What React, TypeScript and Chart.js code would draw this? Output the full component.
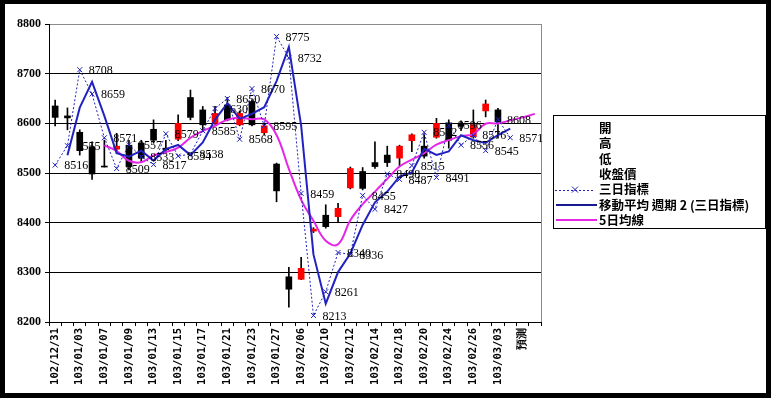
import React, { useEffect, useRef } from 'react';
import { Chart, registerables } from 'chart.js';
Chart.register(...registerables);

const categories = ['102/12/31','103/01/02','103/01/03','103/01/06','103/01/07','103/01/08','103/01/09','103/01/10','103/01/13','103/01/14','103/01/15','103/01/16','103/01/17','103/01/20','103/01/21','103/01/22','103/01/23','103/01/24','103/01/27','103/02/05','103/02/06','103/02/07','103/02/10','103/02/11','103/02/12','103/02/13','103/02/14','103/02/17','103/02/18','103/02/19','103/02/20','103/02/21','103/02/24','103/02/25','103/02/26','103/02/27','103/03/03','103/03/04','預測',''];

const opens =  [8635,8615,8582,8553,8514,8548,8556,8560,8588,8550,8568,8652,8627,8600,8637,8597,8644,8581,8518,8291,8286,8383,8415,8412,8470,8503,8521,8536,8530,8565,8554,8572,8601,8600,8573,8625,8627];
const highs =  [8647,8631,8587,8563,8566,8580,8566,8566,8607,8566,8617,8667,8634,8634,8652,8625,8648,8600,8520,8310,8330,8390,8436,8439,8512,8511,8563,8554,8556,8579,8577,8610,8607,8605,8627,8647,8630];
const lows =   [8595,8587,8536,8487,8512,8540,8506,8523,8560,8540,8565,8607,8587,8598,8605,8595,8595,8577,8442,8230,8285,8380,8389,8402,8468,8466,8509,8513,8513,8543,8530,8570,8550,8585,8570,8613,8570];
const closes = [8612,8611,8545,8498,8512,8554,8513,8530,8566,8547,8600,8612,8597,8620,8607,8620,8597,8595,8464,8266,8308,8387,8392,8429,8509,8469,8513,8521,8554,8577,8534,8600,8566,8594,8597,8639,8603];

const threeDay = [8516,8555,8708,8659,8571,8509,8557,8533,8517,8579,8534,8538,8585,8630,8650,8568,8670,8595,8775,8732,8459,8213,8261,8340,8336,8455,8427,8498,8487,8515,8582,8491,8596,8556,8576,8545,8608,8571];
const ma2 = [null,8535.5,8631.5,8683.5,8615,8540,8533,8545,8525,8548,8556.5,8536,8561.5,8607.5,8640,8609,8619,8632.5,8685,8753.5,8595.5,8336,8237,8300.5,8338,8395.5,8441,8462.5,8492.5,8501,8548.5,8536.5,8543.5,8576,8566,8560.5,8576.5,8589.5];
const ma5 = [null,null,null,null,8555.8,8544.2,8524.6,8521.6,8535.2,8542,8551.2,8571,8584.4,8595.2,8607.2,8611.2,8608.2,8607.8,8576.6,8508.4,8446,8404,8363.4,8356.4,8405,8437.2,8462.4,8488.2,8513.2,8526.8,8539.8,8557.2,8566.2,8574.2,8578.2,8599.2,8599.8,8606,8612,8619];

const yMin = 8200;
const yMax = 8800;
const yStep = 100;

const legendItems = ['開', '高', '低', '收盤價', '三日指標', '移動平均 週期 2 (三日指標)', '5日均線'];

const BLUE = '#2222c0';
const MAGENTA = '#e626e6';
const RED = '#ff0000';

export default function App() {
  const ref = useRef<HTMLCanvasElement>(null);
  useEffect(() => {
    const canvas = ref.current!;
    const framePlugin = {
      id: 'frame',
      beforeDraw(chart: any) {
        const c = chart.ctx;
        c.save();
        c.fillStyle = '#000';
        c.fillRect(0, 0, 771, 398);
        c.fillStyle = '#fff';
        c.fillRect(5, 4, 761, 389);
        c.restore();
      },
      beforeDatasetsDraw(chart: any) {
        const c = chart.ctx;
        const a = chart.chartArea;
        c.save();
        c.strokeStyle = '#8a8a8a';
        c.lineWidth = 1;
        c.beginPath();
        c.moveTo(Math.round(a.right) + 0.5, a.top);
        c.lineTo(Math.round(a.right) + 0.5, a.bottom);
        c.stroke();
        c.restore();
      },
    };
    const labelPlugin = {
      id: 'pointLabels',
      afterDatasetsDraw(chart: any) {
        const c = chart.ctx;
        const meta = chart.getDatasetMeta(4);
        c.save();
        c.font = '12px "Liberation Serif"';
        c.fillStyle = '#000';
        c.textAlign = 'left';
        c.textBaseline = 'middle';
        meta.data.forEach((p: any, i: number) => {
          const v = threeDay[i];
          if (v == null) return;
          c.fillText(String(v), p.x + 9, p.y + 1);
        });
        c.restore();
      },
    };
    const legendPlugin = {
      id: 'customLegend',
      afterDraw(chart: any) {
        const c = chart.ctx;
        c.save();
        c.strokeStyle = '#000';
        c.lineWidth = 1;
        c.strokeRect(553.5, 115.5, 212, 113);
        c.font = 'bold 12.5px "Noto Sans CJK TC"';
        c.fillStyle = '#000';
        c.textAlign = 'left';
        c.textBaseline = 'middle';
        legendItems.forEach((t, i) => {
          const y = 128 + i * 15.4;
          c.fillText(t, 599, y);
          if (i === 4) {
            c.strokeStyle = BLUE;
            c.setLineDash([2, 2]);
            c.beginPath();
            c.moveTo(555, Math.round(y) + 0.5);
            c.lineTo(595, Math.round(y) + 0.5);
            c.stroke();
            c.setLineDash([]);
            c.beginPath();
            c.moveTo(572, y - 3);
            c.lineTo(578, y + 3);
            c.moveTo(578, y - 3);
            c.lineTo(572, y + 3);
            c.stroke();
          } else if (i === 5 || i === 6) {
            c.strokeStyle = i === 5 ? '#1a1a90' : MAGENTA;
            c.lineWidth = 2;
            c.beginPath();
            c.moveTo(556, Math.round(y));
            c.lineTo(597, Math.round(y));
            c.stroke();
            c.lineWidth = 1;
          }
        });
        c.restore();
      },
    };

    const chart = new Chart(canvas, {
      type: 'bar',
      data: {
        labels: categories,
        datasets: [
          {
            type: 'bar',
            label: '高低',
            data: categories.map((_, i) => (i < highs.length ? [lows[i], highs[i]] : null)) as any,
            backgroundColor: '#000',
            barThickness: 1,
            grouped: false,
            order: 5,
          } as any,
          {
            type: 'bar',
            label: '開收',
            data: categories.map((_, i) => (i < opens.length ? [opens[i], closes[i]] : null)) as any,
            backgroundColor: (ctx: any) => {
              const i = ctx.dataIndex;
              return closes[i] >= opens[i] ? RED : '#000';
            },
            barThickness: 6,
            grouped: false,
            order: 4,
          } as any,
          {
            type: 'line',
            label: '5日均線',
            data: ma5 as any,
            borderColor: MAGENTA,
            borderWidth: 2,
            tension: 0.4,
            pointRadius: 0,
            fill: false,
            order: 3,
          },
          {
            type: 'line',
            label: '移動平均 週期 2 (三日指標)',
            data: ma2 as any,
            borderColor: BLUE,
            borderWidth: 2,
            tension: 0,
            pointRadius: 0,
            fill: false,
            order: 2,
          },
          {
            type: 'line',
            label: '三日指標',
            data: threeDay as any,
            borderColor: BLUE,
            borderWidth: 1,
            borderDash: [2, 2],
            tension: 0,
            pointStyle: 'crossRot',
            pointRadius: 3.5,
            pointBorderColor: BLUE,
            pointBorderWidth: 1,
            fill: false,
            order: 1,
          },
        ],
      },
      options: {
        responsive: false,
        animation: false,
        devicePixelRatio: 1,
        layout: { padding: { left: 0, right: 230, top: 24, bottom: 0 } },
        plugins: { legend: { display: false }, tooltip: { enabled: false } },
        scales: {
          x: {
            type: 'category',
            offset: true,
            grid: { offset: true, drawOnChartArea: false, drawTicks: true, tickLength: 4, color: '#000' },
            border: { color: '#000', width: 1 },
            ticks: {
              autoSkip: false,
              maxRotation: 90,
              minRotation: 90,
              color: '#000',
              padding: 2,
              font: { family: '"DejaVu Sans Mono"', size: 10.5, weight: 'bold' },
              callback: (_v: any, i: number) => (i % 2 === 0 ? categories[i] : ''),
            },
            afterFit: (s: any) => { s.height = 76; },
          },
          y: {
            min: yMin,
            max: yMax,
            ticks: {
              stepSize: yStep,
              color: '#000',
              padding: 4,
              font: { family: '"Liberation Serif"', size: 12, weight: 'bold' },
              callback: (v: any) => String(v),
            },
            grid: {
              color: (ctx: any) => (ctx.tick && ctx.tick.value === yMax ? '#8a8a8a' : '#000'),
              tickColor: '#000',
              tickLength: 4,
              drawTicks: true,
            },
            border: { color: '#000', width: 1 },
            afterFit: (s: any) => { s.width = 49; },
          },
        },
      } as any,
      plugins: [framePlugin, labelPlugin, legendPlugin],
    });
    return () => chart.destroy();
  }, []);
  return (
    <div style={{ position: 'absolute', left: 0, top: 0, width: 771, height: 398 }}>
      <canvas ref={ref} width={771} height={398} style={{ display: 'block', width: 771, height: 398 }} />
    </div>
  );
}
